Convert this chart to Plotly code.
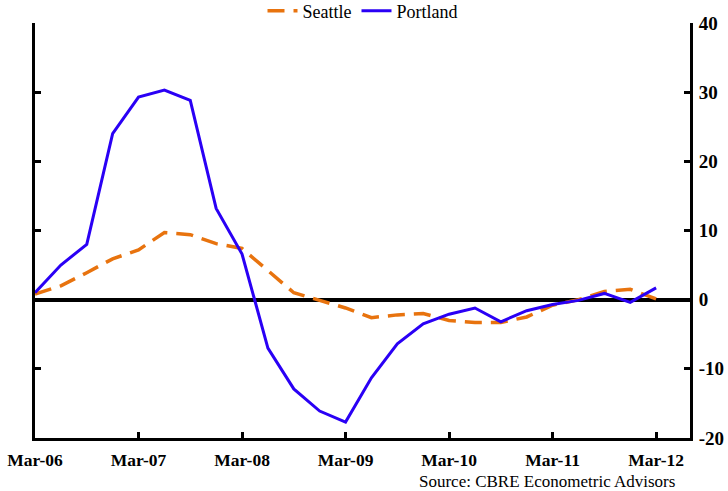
import plotly.graph_objects as go

quarters = list(range(25))
tick_vals = [0, 4, 8, 12, 16, 20, 24]
tick_text = ["Mar-06", "Mar-07", "Mar-08", "Mar-09", "Mar-10", "Mar-11", "Mar-12"]
y_tick_vals = [-20, -10, 0, 10, 20, 30, 40]
y_tick_text = ["-20", "-10", "0", "10", "20", "30", "40"]

seattle = [0.8, 2.0, 3.9, 5.9, 7.2, 9.7, 9.4, 8.1, 7.4, 4.2, 1.0, -0.1, -1.2,
           -2.6, -2.2, -2.0, -3.0, -3.3, -3.3, -2.5, -0.8, 0.0, 1.2, 1.5, 0.1]
portland = [1.0, 5.0, 8.0, 24.0, 29.3, 30.3, 28.8, 13.2, 6.6, -7.0, -12.9, -16.1, -17.7,
            -11.3, -6.4, -3.5, -2.1, -1.2, -3.2, -1.6, -0.7, -0.1, 0.9, -0.4, 1.7]

serif = "Liberation Serif, Times New Roman, serif"

fig = go.Figure()
fig.add_trace(go.Scatter(x=quarters, y=seattle, name="Seattle", mode="lines",
                         line=dict(color="#E8730E", width=3.5, dash="17px,9px")))
fig.add_trace(go.Scatter(x=quarters, y=portland, name="Portland", mode="lines",
                         line=dict(color="#2A00F5", width=3)))

fig.update_layout(
    width=728, height=491,
    margin=dict(l=35, r=38, t=23, b=53, autoexpand=False),
    plot_bgcolor="white", paper_bgcolor="white",
    font=dict(family=serif, size=15, color="black"),
    legend=dict(orientation="h", x=0.5, xanchor="center", y=1.029, yanchor="middle",
                font=dict(size=18), itemwidth=30, tracegroupgap=0,
                bgcolor="rgba(0,0,0,0)"),
    xaxis=dict(range=[0, 25.31], tickvals=tick_vals, ticktext=tick_text,
               showgrid=False, zeroline=False, showline=True, linecolor="black",
               linewidth=3, ticks="inside", ticklen=6, tickwidth=3, tickcolor="black",
               tickfont=dict(family=serif, size=17.5, color="black", weight="bold"),
               ticklabelstandoff=4, automargin=False),
    yaxis=dict(range=[-20, 40], side="right", tickvals=y_tick_vals, ticktext=y_tick_text,
               showgrid=False,
               zeroline=True, zerolinecolor="black", zerolinewidth=3.5,
               showline=True, linecolor="black", linewidth=3, mirror="ticks",
               ticks="inside", ticklen=6, tickwidth=3, tickcolor="black",
               tickfont=dict(family=serif, size=19, color="black", weight="bold"),
               ticklabelstandoff=2, automargin=False),
)

fig.add_annotation(text="Source: CBRE Econometric Advisors", xref="paper", yref="paper",
                   x=0.980, y=-0.104, xanchor="right", yanchor="middle", showarrow=False,
                   font=dict(family=serif, size=17, color="black"))

fig.write_html("out.html", config={"displayModeBar": False},
               post_script="document.body.style.margin='0';document.body.style.padding='0';")
